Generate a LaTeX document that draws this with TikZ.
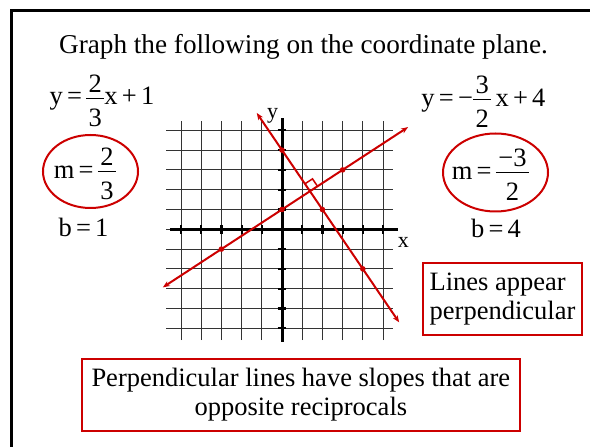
\documentclass[tikz,border=0pt]{standalone}
\usepackage{fontspec}
\setmainfont{Liberation Serif}
\usetikzlibrary{arrows.meta}
\definecolor{pred}{RGB}{204,0,0}
\newcommand{\fr}[2]{%
  \setbox0=\hbox{#1}\setbox2=\hbox{#2}%
  \dimen0=\wd0 \ifdim\wd2>\dimen0 \dimen0=\wd2 \fi
  \advance\dimen0 by 5pt
  \hbox to \dimen0{%
    \rlap{\hbox to\dimen0{\hss\raise12.5pt\box0\hss}}%
    \rlap{\hbox to\dimen0{\hss\lower21.5pt\box2\hss}}%
    \rlap{\vrule height 7.3pt depth -6.3pt width\dimen0}%
    \hss}}
\newcommand{\gp}{\hspace{0.16em}}
\tikzset{
  big/.style={font=\fontsize{26.5}{29}\selectfont, inner sep=0pt},
  title/.style={font=\fontsize{27.2}{30}\selectfont, inner sep=0pt},
  gridline/.style={draw=black!80, line width=1pt},
  axisline/.style={draw=black, line width=3pt},
  tickline/.style={draw=black, line width=2.2pt},
  redline/.style={draw=pred, line width=2pt},
  dot/.style={circle, fill=pred, inner sep=0pt, minimum size=5.6pt},
  redbox/.style={draw=pred, line width=2pt, font=\fontsize{26.5}{28.5}\selectfont, inner sep=0pt},
  axlab/.style={font=\fontsize{22}{24}\selectfont, inner sep=0pt, anchor=base}
}
\begin{document}
\begin{tikzpicture}[x=1pt,y=1pt]
\useasboundingbox (0,0) rectangle (590,447);
% frame
\draw[line width=3pt] (11,0) -- (11,436.5) -- (590,436.5);
% title
\node[title, anchor=base] (ttl) at (303.5,393) {Graph the following on the coordinate plane.};
% left equations
\node[big, anchor=base] (eqL) at (102,342) {y\gp=\gp\fr{2}{3}x\gp+\gp1};
\draw[redline] (90.5,275.5) ellipse [x radius=47.5, y radius=36.5];
\node[big, anchor=base] (mL) at (85,268.5) {m\gp=\gp\fr{2}{3}};
\node[big, anchor=base] (bL) at (83.5,210.5) {b\gp=\gp1};
% right equations
\node[big, anchor=base] (eqR) at (483.5,340.5) {y\gp=\gp−\fr{3}{2}\gp x\gp+\gp4};
\draw[redline] (495.5,274.5) ellipse [x radius=52.5, y radius=39];
\node[big, anchor=base] (mR) at (490.5,267.5) {m\gp=\gp\fr{−3}{2}};
\node[big, anchor=base] (bR) at (496,209.5) {b\gp=\gp4};
% graph
\begin{scope}[shift={(282pt,217.7pt)}, x=20.2pt, y=19.8pt]
  \foreach \i in {-5,...,-1,1,2,...,5} \draw[gridline] (\i,-5.6) -- (\i,5.47);
  \foreach \j in {-5,...,5} \draw[gridline] (-5.74,\j) -- (5.5,\j);
  \draw[axisline] (-5.52,0) -- (5.73,0);
  \draw[axisline] (0,-5.68) -- (0,5.62);
  \foreach \i in {-5,...,-1,1,2,...,5} {
    \draw[tickline] (\i,-0.23) -- (\i,0.23);
    \draw[tickline] (-0.22,\i) -- (0.22,\i);
  }
  \node[axlab] (ylab) at (-0.47,5.62) {y};
  \node[axlab] (xlab) at (6.01,-0.9) {x};
  \coordinate (a1) at (-5.9,-2.933);
  \coordinate (a2) at (6.24,5.16);
  \coordinate (b1) at (-1.25,5.875);
  \coordinate (b2) at (5.8,-4.7);
  \draw[redline, {Stealth[length=7pt,width=5.5pt]}-{Stealth[length=7pt,width=5.5pt]}] (a1) -- (a2);
  \draw[redline, {Stealth[length=7pt,width=5.5pt]}-{Stealth[length=7pt,width=5.5pt]}] (b1) -- (b2);
  \draw[draw=pred, line width=1.5pt] (1.759,2.173) -- (1.510,2.547) -- (1.135,2.297);
  \node[dot] (p1) at (0,1) {};
  \node[dot] (p2) at (3,3) {};
  \node[dot] (p3) at (-3,-1) {};
  \node[dot] (q1) at (0,4) {};
  \node[dot] (q2) at (2,1) {};
  \node[dot] (q3) at (4,-2) {};
\end{scope}
% boxes
\node[redbox, minimum width=158.4pt, minimum height=71.7pt, align=left] (perp) at (502.5,147.7) {Lines appear\\perpendicular};
\node[redbox, minimum width=438.3pt, minimum height=71.7pt, align=center] (recip) at (300.85,52.15) {Perpendicular lines have slopes that are\\opposite reciprocals};
\end{tikzpicture}
\end{document}
